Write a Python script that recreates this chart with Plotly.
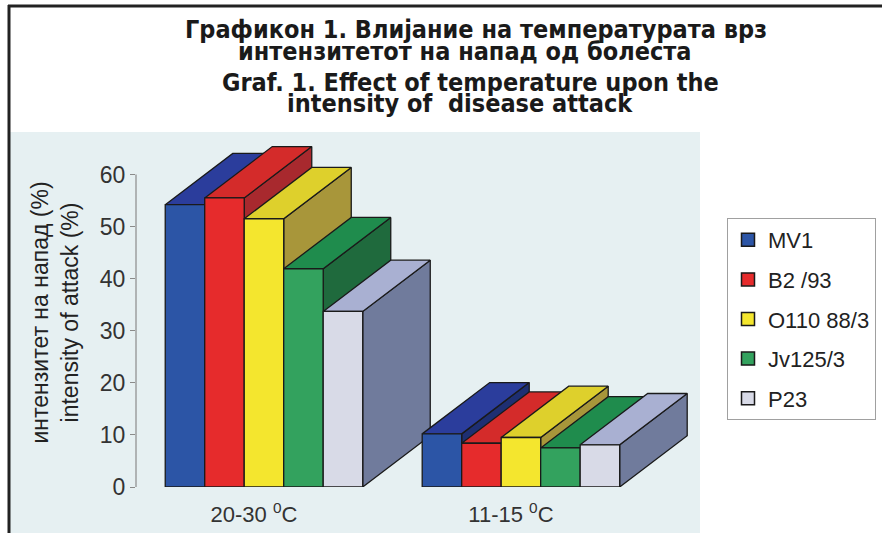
import plotly.graph_objects as go

# ---------------- data ----------------
categories = ["20-30 <sup>0</sup>C", "11-15 <sup>0</sup>C"]
series_names = ["MV1", "B2 /93", "O110 88/3", "Jv125/3", "P23"]
mv1 = [54.2, 10.2]
b2_93 = [55.5, 8.4]
o110_88_3 = [51.5, 9.5]
jv125_3 = [41.9, 7.5]
p23 = [33.7, 8.1]
y_ticks = [0, 10, 20, 30, 40, 50, 60]

series_values = [mv1, b2_93, o110_88_3, jv125_3, p23]

# ---------------- style ----------------
front_colors = ["#2c55a6", "#e62b2c", "#f4e62e", "#33a25e", "#d8dae7"]
top_colors = ["#2b3d9c", "#d42b2a", "#ded02c", "#1f8c4d", "#a9b0d2"]
side_colors = ["#1e2f72", "#a8292e", "#a8963a", "#1f6a3d", "#707b9c"]

W, H = 882, 533
ML, MR, MT, MB = 136, 182, 138, 46
PW, PH = W - ML - MR, H - MT - MB
FONT = "Liberation Sans, Arial, sans-serif"

cat_pos = [0.0, 6.506]      # front-centre of each category cluster (x units)
bar_w = 1.0                 # width of one bar (x units)
depth_x = 1.71              # 3-D depth offset (x units)
depth_y = 9.85              # 3-D depth offset (y units)
x_range = [-3.24, 11.04]
y_range = [0, 67]


def px_x(px):
    return (px - ML) / PW


def px_y(py):
    return (H - MB - py) / PH


fig = go.Figure()

n = len(series_names)
for g, cpos in enumerate(cat_pos):
    for j, vals in enumerate(series_values):
        v = vals[g]
        x0 = cpos - n * bar_w / 2 + j * bar_w
        x1 = x0 + bar_w
        faces = [
            ([x1, x1 + depth_x, x1 + depth_x, x1, x1],
             [0, depth_y, v + depth_y, v, 0], side_colors[j]),
            ([x0, x1, x1 + depth_x, x0 + depth_x, x0],
             [v, v, v + depth_y, v + depth_y, v], top_colors[j]),
            ([x0, x1, x1, x0, x0], [0, 0, v, v, 0], front_colors[j]),
        ]
        for xs, ys, col in faces:
            fig.add_trace(go.Scatter(
                x=xs, y=ys, mode="lines", fill="toself", fillcolor=col,
                line=dict(color="#1a1a1a", width=1.3),
                showlegend=False, hoverinfo="skip"))

# legend entries
for j, name in enumerate(series_names):
    fig.add_trace(go.Scatter(
        x=[None], y=[None], mode="markers", name=name,
        legendgroup=name,
        marker=dict(symbol="square", size=13, color=front_colors[j],
                    line=dict(color="#1a1a1a", width=1.5))))

shapes = [
    dict(type="rect", xref="paper", yref="paper", layer="below",
         x0=px_x(10), x1=px_x(700), y0=px_y(533), y1=px_y(132),
         fillcolor="#e6f0f2", line=dict(width=0)),
    dict(type="line", xref="paper", yref="y", x0=0, x1=0, y0=0, y1=60,
         line=dict(color="#8a8a8a", width=1.2)),
    dict(type="line", xref="paper", yref="paper",
         x0=px_x(8), x1=px_x(882), y0=px_y(6), y1=px_y(6),
         line=dict(color="#222", width=3)),
    dict(type="line", xref="paper", yref="paper",
         x0=px_x(9), x1=px_x(9), y0=px_y(5), y1=px_y(533),
         line=dict(color="#222", width=3)),
]

title_lines = [
    ("Графикон 1. Влијание на температурата врз", 476, 30),
    ("интензитетот на напад од болеста", 464, 51),
    ("Graf. 1. Effect of temperature upon the", 470, 82),
    ("intensity of  disease attack", 460, 103),
]
annotations = []
for txt, cx, cy in title_lines:
    annotations.append(dict(
        text="<b>" + txt + "</b>", xref="paper", yref="paper",
        x=px_x(cx), y=px_y(cy), xanchor="center", yanchor="middle",
        showarrow=False,
        font=dict(family="DejaVu Sans Condensed, Liberation Sans, sans-serif",
                  size=25, color="#1a1a1a")))

fig.update_layout(
    width=W, height=H,
    margin=dict(l=ML, r=MR, t=MT, b=MB, autoexpand=False),
    paper_bgcolor="white",
    plot_bgcolor="rgba(0,0,0,0)",
    font=dict(family=FONT, color="#222"),
    shapes=shapes,
    annotations=annotations,
    showlegend=True,
    legend=dict(x=px_x(727), y=px_y(218), xanchor="left", yanchor="top",
                bgcolor="white", bordercolor="#a0a0a0", borderwidth=1,
                font=dict(family=FONT, size=22, color="#222"),
                traceorder="grouped", tracegroupgap=8,
                itemwidth=30),
    xaxis=dict(range=x_range, tickvals=cat_pos, ticktext=categories,
               showgrid=False, zeroline=False, showline=False, ticks="",
               tickfont=dict(family=FONT, size=22, color="#333"),
               ticklabelshift=-10, ticklabelstandoff=12,
               automargin=False, fixedrange=True),
    yaxis=dict(range=y_range, tickvals=y_ticks,
               showgrid=False, zeroline=False, showline=False,
               ticks="outside", ticklen=5, tickcolor="#8a8a8a", tickwidth=1.2,
               tickfont=dict(family=FONT, size=23, color="#333"),
               title=dict(text="интензитет на напад (%)<br>intensity of attack (%)",
                          font=dict(family=FONT, size=23, color="#222"),
                          standoff=14),
               automargin=False, fixedrange=True),
)

fig.write_html(
    "out.html",
    config={"displayModeBar": False},
    post_script="document.body.style.margin='0';document.body.style.overflow='hidden';",
)
